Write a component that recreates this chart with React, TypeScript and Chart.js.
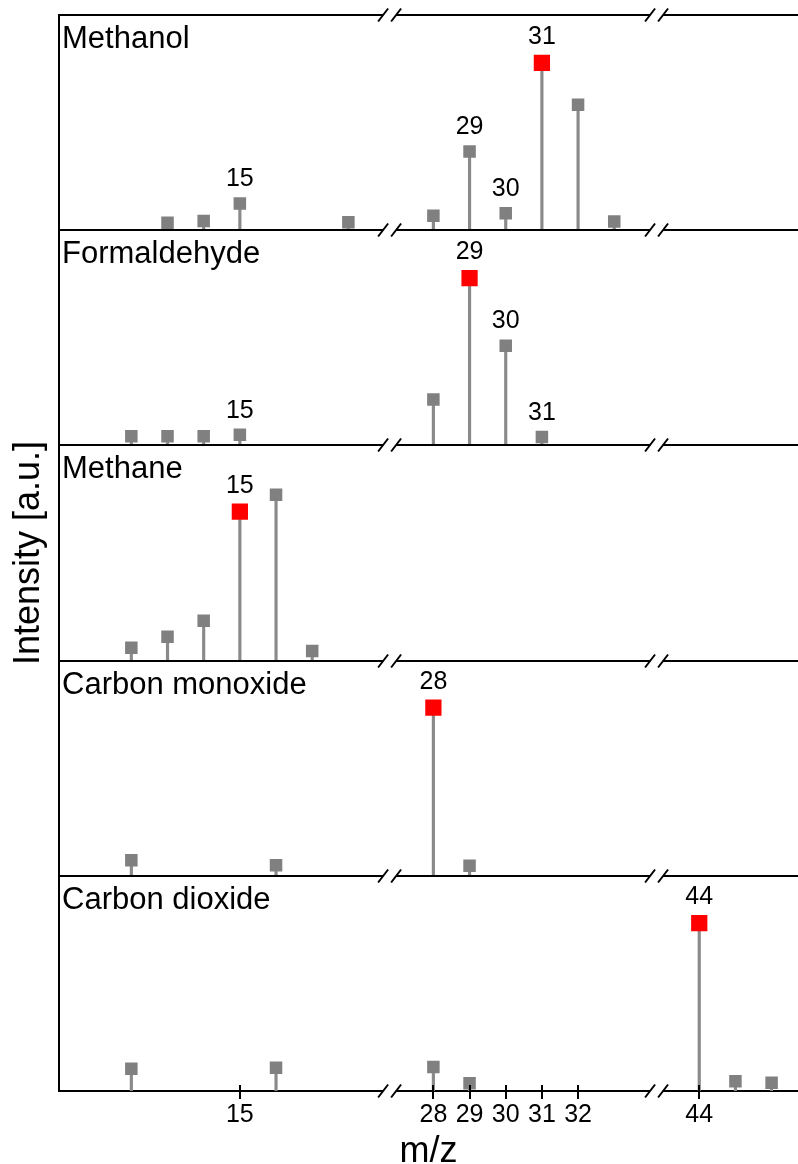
import { useEffect, useRef } from "react";
import { Chart, registerables } from "chart.js";

Chart.register(...registerables);

const FONT = '"Liberation Sans", Arial, Helvetica, sans-serif';
const STEM_COLOR = "#8a8a8a";
const MARKER_COLOR = "#808080";
const BASE_COLOR = "#ff0000";

// Panel titles, top to bottom
const PANEL_NAMES = ["Methanol", "Formaldehyde", "Methane", "Carbon monoxide", "Carbon dioxide"];

// Fragment m/z and relative intensity (0-100 = panel height)
const MZ_METHANOL = [13, 14, 15, 18, 28, 29, 30, 31, 32, 33];
const INT_METHANOL = [3.5, 4.3, 12.4, 3.7, 6.7, 36.6, 7.9, 77.7, 58.3, 4.0];
const LABELED_METHANOL = [15, 29, 30, 31];

const MZ_FORMALDEHYDE = [12, 13, 14, 15, 28, 29, 30, 31];
const INT_FORMALDEHYDE = [4.3, 4.3, 4.3, 4.9, 21.3, 77.7, 46.3, 3.9];
const LABELED_FORMALDEHYDE = [15, 29, 30, 31];

const MZ_METHANE = [12, 13, 14, 15, 16, 17];
const INT_METHANE = [6.0, 11.1, 18.5, 69.2, 77.1, 4.5];
const LABELED_METHANE = [15];

const MZ_CO = [12, 16, 28, 29];
const INT_CO = [7.2, 4.9, 78.1, 4.7];
const LABELED_CO = [28];

const MZ_CO2 = [12, 16, 28, 29, 44, 45, 46];
const INT_CO2 = [10.3, 10.8, 11.1, 3.6, 78.0, 4.5, 3.8];
const LABELED_CO2 = [44];

// Highlighted (quantified) fragment of each species
const BASE_PEAKS = [31, 29, 15, 28, 44];

// x axis: ticks, range and the two broken-out gaps (in m/z)
const X_TICKS = [15, 28, 29, 30, 31, 32, 44];
const X_MIN = 10;
const X_MAX = 46.73;
const BREAKS = [
  { from: 19.14, to: 26.79 },
  { from: 34.17, to: 42.82 },
];

// collapse the broken-out gaps: m/z -> continuous axis coordinate
function toU(m: number): number {
  let shift = 0;
  for (const b of BREAKS) if (m >= b.to) shift += b.to - b.from;
  return m - shift;
}

const PANELS = [
  { name: PANEL_NAMES[0], mz: MZ_METHANOL, intensity: INT_METHANOL, labeled: LABELED_METHANOL, base: BASE_PEAKS[0] },
  { name: PANEL_NAMES[1], mz: MZ_FORMALDEHYDE, intensity: INT_FORMALDEHYDE, labeled: LABELED_FORMALDEHYDE, base: BASE_PEAKS[1] },
  { name: PANEL_NAMES[2], mz: MZ_METHANE, intensity: INT_METHANE, labeled: LABELED_METHANE, base: BASE_PEAKS[2] },
  { name: PANEL_NAMES[3], mz: MZ_CO, intensity: INT_CO, labeled: LABELED_CO, base: BASE_PEAKS[3] },
  { name: PANEL_NAMES[4], mz: MZ_CO2, intensity: INT_CO2, labeled: LABELED_CO2, base: BASE_PEAKS[4] },
];

const GREY_RADIUS = 8.85;
const BASE_RADIUS = 11.5;

// frame lines, axis-break marks, inner tick halves, panel names and peak labels
const decorPlugin = {
  id: "spectraDecor",
  afterDraw(chart: any) {
    const { ctx, chartArea, scales } = chart;
    const xs = scales.x;
    const { left, right, bottom } = chartArea;
    ctx.save();
    ctx.strokeStyle = "#000";
    ctx.lineWidth = 2;
    ctx.lineCap = "butt";

    const tops = PANELS.map((_, i) => Math.round(scales["y" + i].top));
    ctx.beginPath();
    tops.forEach((y) => {
      ctx.moveTo(left - 1, y);
      ctx.lineTo(right, y);
    });
    ctx.stroke();

    ctx.beginPath();
    X_TICKS.forEach((m) => {
      const px = Math.round(xs.getPixelForValue(toU(m)));
      ctx.moveTo(px, bottom - 6);
      ctx.lineTo(px, bottom);
    });
    ctx.stroke();

    const lines = [...tops, Math.round(bottom)];
    BREAKS.forEach((b) => {
      const bx = xs.getPixelForValue(toU(b.from));
      lines.forEach((y) => {
        ctx.fillStyle = "#fff";
        ctx.fillRect(bx - 6.5, y - 1.6, 13, 3.2);
        ctx.beginPath();
        [-6.5, 6.5].forEach((d) => {
          ctx.moveTo(bx + d - 5, y + 6.5);
          ctx.lineTo(bx + d + 5, y - 6.5);
        });
        ctx.stroke();
      });
    });

    ctx.fillStyle = "#000";
    ctx.textBaseline = "alphabetic";
    PANELS.forEach((p, i) => {
      const ys = scales["y" + i];
      ctx.font = `31px ${FONT}`;
      ctx.textAlign = "left";
      ctx.fillText(p.name, left + 3, ys.top + 33);

      ctx.font = `25px ${FONT}`;
      ctx.textAlign = "center";
      p.labeled.forEach((m) => {
        const k = p.mz.indexOf(m);
        const py = ys.getPixelForValue(p.intensity[k]);
        const off = m === p.base ? 19 : 17.3;
        ctx.fillText(String(m), xs.getPixelForValue(toU(m)), py - off);
      });
    });
    ctx.restore();
  },
};

export default function App() {
  const canvasRef = useRef<HTMLCanvasElement | null>(null);

  useEffect(() => {
    const canvas = canvasRef.current;
    if (!canvas) return;

    const datasets: any[] = [];
    const yScales: Record<string, any> = {};

    PANELS.forEach((p, i) => {
      const yID = "y" + i;
      const pts = p.mz.map((m, k) => ({ x: toU(m), y: p.intensity[k] }));
      datasets.push({
        type: "bar",
        data: pts,
        xAxisID: "x",
        yAxisID: yID,
        backgroundColor: STEM_COLOR,
        borderWidth: 0,
        barThickness: 2.5,
        grouped: false,
        order: 3,
      });
      datasets.push({
        type: "scatter",
        data: pts.filter((_, k) => p.mz[k] !== p.base),
        xAxisID: "x",
        yAxisID: yID,
        pointStyle: "rect",
        pointRadius: GREY_RADIUS,
        pointHoverRadius: GREY_RADIUS,
        backgroundColor: MARKER_COLOR,
        borderColor: MARKER_COLOR,
        pointBorderWidth: 0,
        showLine: false,
        order: 2,
      });
      datasets.push({
        type: "scatter",
        data: pts.filter((_, k) => p.mz[k] === p.base),
        xAxisID: "x",
        yAxisID: yID,
        pointStyle: "rect",
        pointRadius: BASE_RADIUS,
        pointHoverRadius: BASE_RADIUS,
        backgroundColor: BASE_COLOR,
        borderColor: BASE_COLOR,
        pointBorderWidth: 0,
        showLine: false,
        order: 1,
      });

      yScales[yID] = {
        type: "linear",
        position: "left",
        stack: "panels",
        stackWeight: 1,
        weight: PANELS.length - i,
        min: 0,
        max: 100,
        ticks: { display: false },
        grid: { display: false, drawTicks: false },
        border: { display: true, color: "#000", width: 2 },
        title:
          i === 2
            ? {
                display: true,
                text: "Intensity [a.u.]",
                color: "#000",
                font: { family: FONT, size: 36 },
                padding: { top: 7, bottom: 0 },
              }
            : { display: false },
        afterFit: (s: any) => {
          s.width = 59;
        },
      };
    });

    const chart = new Chart(canvas, {
      type: "scatter",
      data: { datasets },
      options: {
        responsive: false,
        maintainAspectRatio: false,
        animation: false,
        layout: { autoPadding: false, padding: { top: 15, left: 0, right: 0, bottom: 0 } },
        plugins: {
          legend: { display: false },
          tooltip: { enabled: false },
        },
        events: [],
        scales: {
          x: {
            type: "linear",
            position: "bottom",
            min: toU(X_MIN),
            max: toU(X_MAX),
            offset: false,
            afterBuildTicks: (s: any) => {
              s.ticks = X_TICKS.map((m) => ({ value: toU(m) }));
            },
            ticks: {
              autoSkip: false,
              maxRotation: 0,
              minRotation: 0,
              padding: 1,
              color: "#000",
              font: { family: FONT, size: 25 },
              callback: (_v: any, idx: number) => String(X_TICKS[idx]),
            },
            grid: {
              display: true,
              drawOnChartArea: false,
              drawTicks: true,
              tickLength: 8,
              color: "#000",
              lineWidth: 2,
              offset: false,
            },
            border: { display: true, color: "#000", width: 2 },
            title: {
              display: true,
              text: "m/z",
              color: "#000",
              font: { family: FONT, size: 36, lineHeight: "23px" },
              padding: 0,
            },
            afterFit: (s: any) => {
              s.height = 73;
            },
          },
          ...yScales,
        },
      } as any,
      plugins: [decorPlugin],
    });

    return () => chart.destroy();
  }, []);

  return (
    <div style={{ position: "fixed", left: 0, top: 0, width: 798, height: 1164, background: "#fff" }}>
      <canvas ref={canvasRef} width={798} height={1164} style={{ display: "block" }} />
    </div>
  );
}
